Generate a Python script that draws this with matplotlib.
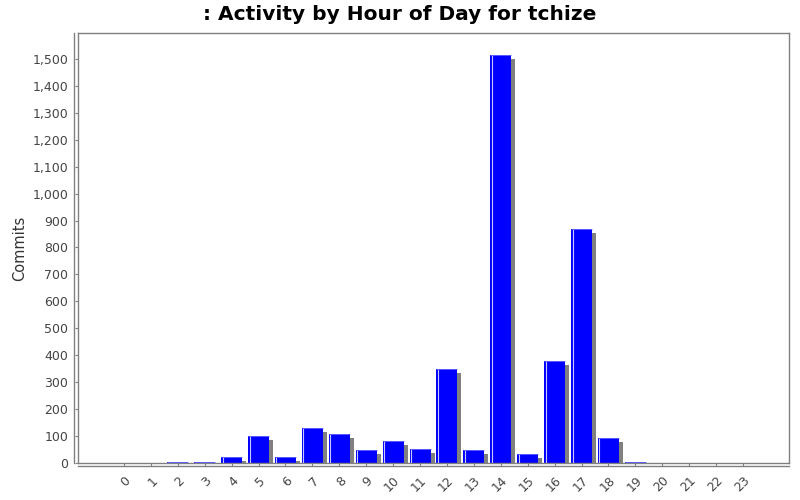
import matplotlib
matplotlib.use("Agg")
import matplotlib.pyplot as plt
import matplotlib.transforms as mtransforms
from matplotlib.ticker import FuncFormatter, MultipleLocator

hours = [str(h) for h in range(24)]
commits = [0, 0, 3, 2, 22, 99, 22, 130, 106, 48, 82, 51,
           349, 49, 1516, 35, 377, 870, 94, 3, 0, 0, 0, 0]

title = ": Activity by Hour of Day for tchize"
ylabel = "Commits"

fig = plt.figure(figsize=(8, 5), dpi=100)
ax = fig.add_axes([78/800, 1-463/500, (789-78)/800, (463-33)/500])

x = list(range(len(hours)))
w = 0.78
bar_col = "#0000ff"
shadow_col = "#808080"

shadow_tr = mtransforms.offset_copy(ax.transData, fig=fig, x=4, y=-4, units="dots")
ax.bar(x, commits, width=w, color=shadow_col, transform=shadow_tr, zorder=1, linewidth=0)
ax.bar(x, commits, width=w, color=bar_col, zorder=2, linewidth=0)
# highlight stripe near left edge and top edge
hl_tr = mtransforms.offset_copy(ax.transData, fig=fig, x=1.5, y=0, units="dots")
for xi, v in zip(x, commits):
    if v > 0:
        ax.plot([xi - w/2, xi - w/2], [0, v], transform=hl_tr, color="#c8c8ff",
                lw=0.8, zorder=3, solid_capstyle="butt")
        ax.plot([xi - w/2, xi + w/2], [v, v], color="#6a6aff", lw=0.6, zorder=3,
                solid_capstyle="butt")

ax.set_xlim(-1.71, 23 + 1.71)
ax.set_ylim(0, 1596)
ax.set_xticks(x)
ax.set_xticklabels(hours, rotation=45, ha="right", va="top", rotation_mode="anchor")
ax.yaxis.set_major_locator(MultipleLocator(100))
ax.yaxis.set_major_formatter(FuncFormatter(lambda v, p: f"{int(v):,}"))

for s in ax.spines.values():
    s.set_color("#808080")
    s.set_linewidth(1)

# separate axis lines offset from the plot frame
fig.add_artist(plt.Line2D([74/800, 74/800], [1-463/500, 1-33/500], color="#808080", lw=1))
fig.add_artist(plt.Line2D([78/800, 789/800], [1-466/500, 1-466/500], color="#808080", lw=1))

ax.tick_params(axis="both", colors="#808080", labelcolor="#444444", labelsize=9, length=2)
ax.tick_params(axis="y", pad=5)
ax.tick_params(axis="x", pad=6)
ax.set_ylabel(ylabel, fontsize=10.5, color="#333333", labelpad=4)
fig.text(0.5, 1-14/500, title, ha="center", va="center", fontsize=14.5, fontweight="bold")

fig.savefig("out.png", dpi=100, facecolor="white")
